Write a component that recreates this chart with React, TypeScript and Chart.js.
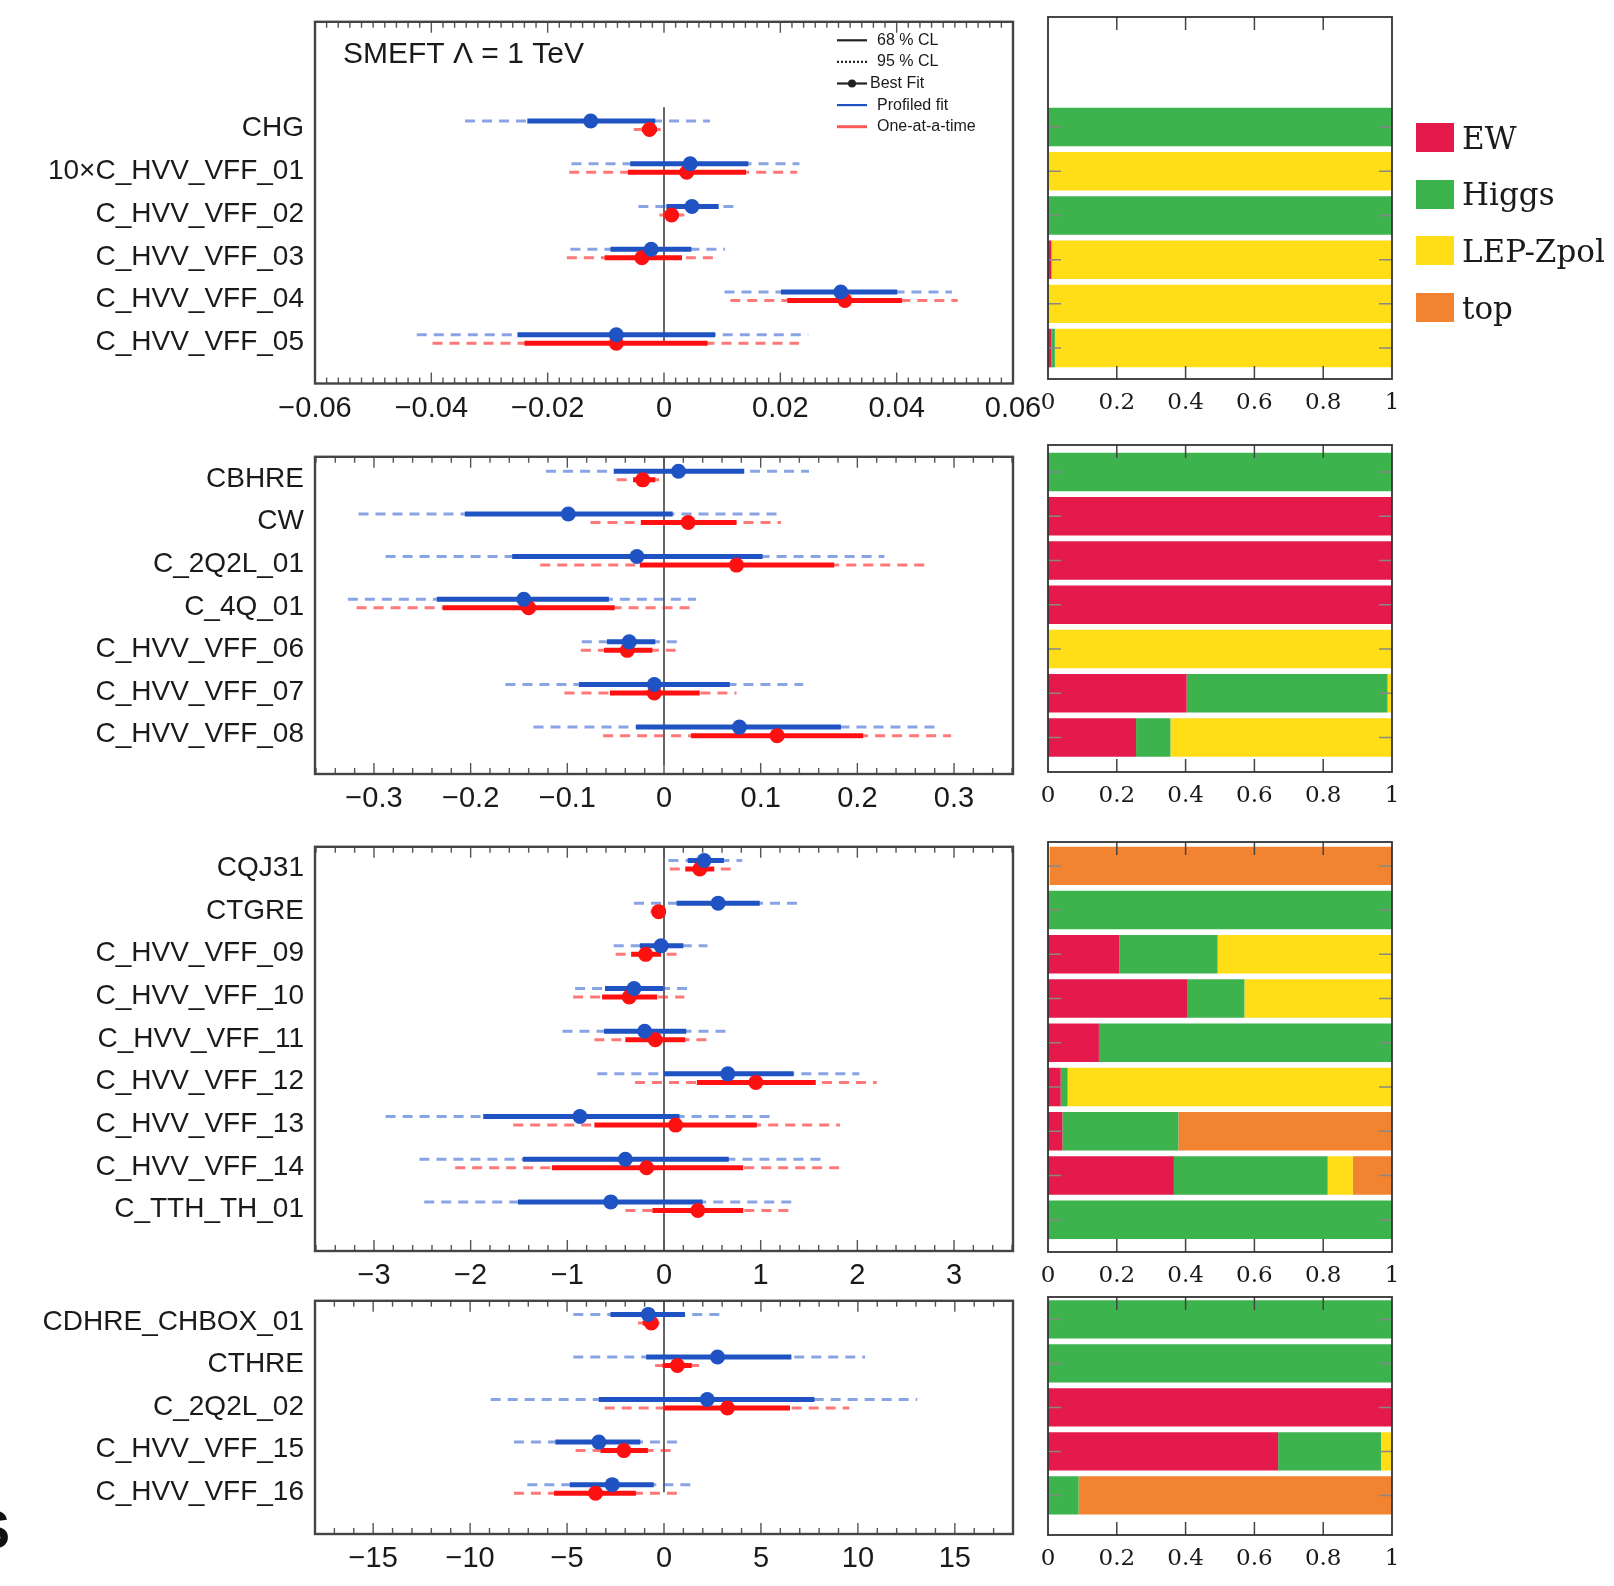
import { useEffect, useRef } from "react"
import { Chart, registerables } from "chart.js"

Chart.register(...registerables)

const SANS = "'Liberation Sans', Arial, sans-serif"
const SERIF = "'DejaVu Serif', 'Liberation Serif', serif"
Chart.defaults.font.family = SANS

// every row: [best fit, 68% low, 68% high, 95% low, 95% high]
const labelsA = ["CHG", "10×C_HVV_VFF_01", "C_HVV_VFF_02", "C_HVV_VFF_03", "C_HVV_VFF_04", "C_HVV_VFF_05"]
const profiledA = [
  [-0.0126, -0.0235, -0.0015, -0.0342, 0.0079],
  [0.0045, -0.0058, 0.0145, -0.0159, 0.0233],
  [0.0048, 0.0004, 0.0094, -0.0044, 0.0128],
  [-0.0022, -0.0092, 0.0047, -0.0161, 0.0105],
  [0.0304, 0.0201, 0.0401, 0.0104, 0.0495],
  [-0.0082, -0.0252, 0.0088, -0.0425, 0.0248],
]
const oneAtATimeA = [
  [-0.0025, -0.0038, -0.0012, -0.0052, 0.0001],
  [0.0039, -0.0062, 0.0141, -0.0163, 0.0229],
  [0.0013, 0.0, 0.0025, -0.0008, 0.0035],
  [-0.0038, -0.0102, 0.0031, -0.0167, 0.0095],
  [0.0311, 0.0212, 0.0409, 0.0114, 0.0505],
  [-0.0082, -0.024, 0.0075, -0.0398, 0.0232],
]

const labelsB = ["CBHRE", "CW", "C_2Q2L_01", "C_4Q_01", "C_HVV_VFF_06", "C_HVV_VFF_07", "C_HVV_VFF_08"]
const profiledB = [
  [0.015, -0.052, 0.083, -0.122, 0.15],
  [-0.099, -0.206, 0.009, -0.316, 0.118],
  [-0.028, -0.157, 0.102, -0.288, 0.228],
  [-0.145, -0.235, -0.057, -0.327, 0.033],
  [-0.036, -0.059, -0.009, -0.085, 0.015],
  [-0.01, -0.088, 0.068, -0.164, 0.144],
  [0.078, -0.029, 0.183, -0.135, 0.286],
]
const oneAtATimeB = [
  [-0.022, -0.032, -0.009, -0.049, -0.005],
  [0.025, -0.024, 0.075, -0.076, 0.121],
  [0.075, -0.025, 0.176, -0.128, 0.275],
  [-0.14, -0.229, -0.051, -0.318, 0.029],
  [-0.038, -0.062, -0.012, -0.086, 0.012],
  [-0.01, -0.056, 0.037, -0.103, 0.075],
  [0.117, 0.028, 0.206, -0.063, 0.297],
]

const labelsC = [
  "CQJ31", "CTGRE", "C_HVV_VFF_09", "C_HVV_VFF_10", "C_HVV_VFF_11",
  "C_HVV_VFF_12", "C_HVV_VFF_13", "C_HVV_VFF_14", "C_TTH_TH_01",
]
const profiledC = [
  [0.415, 0.245, 0.62, 0.046, 0.81],
  [0.56, 0.13, 0.99, -0.31, 1.44],
  [-0.03, -0.25, 0.2, -0.52, 0.45],
  [-0.31, -0.61, -0.01, -0.92, 0.29],
  [-0.2, -0.62, 0.23, -1.05, 0.66],
  [0.66, 0.0, 1.34, -0.69, 2.02],
  [-0.87, -1.87, 0.16, -2.88, 1.13],
  [-0.4, -1.46, 0.67, -2.53, 1.68],
  [-0.55, -1.51, 0.4, -2.48, 1.35],
]
const oneAtATimeC = [
  [0.37, 0.22, 0.52, 0.06, 0.69],
  [-0.055, -0.115, 0.0, -0.14, 0.02],
  [-0.19, -0.34, -0.03, -0.5, 0.13],
  [-0.36, -0.64, -0.07, -0.94, 0.21],
  [-0.09, -0.4, 0.22, -0.72, 0.49],
  [0.95, 0.34, 1.57, -0.3, 2.2],
  [0.12, -0.72, 0.96, -1.56, 1.82],
  [-0.18, -1.16, 0.82, -2.16, 1.82],
  [0.35, -0.12, 0.82, -0.4, 1.3],
]

const labelsD = ["CDHRE_CHBOX_01", "CTHRE", "C_2Q2L_02", "C_HVV_VFF_15", "C_HVV_VFF_16"]
const profiledD = [
  [-0.81, -2.76, 1.08, -4.68, 3.0],
  [2.76, -0.92, 6.57, -4.68, 10.37],
  [2.23, -3.36, 7.76, -8.94, 13.06],
  [-3.36, -5.6, -1.22, -7.74, 1.01],
  [-2.67, -4.86, -0.53, -7.05, 1.66],
]
const oneAtATimeD = [
  [-0.65, -1.1, -0.3, -1.34, -0.23],
  [0.69, -0.07, 1.43, -0.46, 1.84],
  [3.27, 0.0, 6.5, -3.06, 9.56],
  [-2.07, -3.27, -0.83, -4.56, 0.39],
  [-3.53, -5.67, -1.45, -7.74, 0.69],
]

// fraction of the constraint per dataset group
const groups = ["EW", "Higgs", "LEP-Zpol", "top"]
const ewA = [0, 0, 0, 0.01, 0, 0.01]
const higgsA = [1, 0, 1, 0, 0, 0.01]
const lepA = [0, 1, 0, 0.99, 1, 0.98]
const topA = [0, 0, 0, 0, 0, 0]
const ewB = [0, 1, 1, 1, 0, 0.403, 0.256]
const higgsB = [1, 0, 0, 0, 0, 0.584, 0.1]
const lepB = [0, 0, 0, 0, 1, 0.013, 0.644]
const topB = [0, 0, 0, 0, 0, 0, 0]
const ewC = [0, 0, 0.207, 0.406, 0.148, 0.037, 0.042, 0.366, 0]
const higgsC = [0, 1, 0.286, 0.165, 0.852, 0.02, 0.337, 0.447, 1]
const lepC = [0.005, 0, 0.507, 0.429, 0, 0.943, 0, 0.073, 0]
const topC = [0.995, 0, 0, 0, 0, 0, 0.621, 0.114, 0]
const ewD = [0, 0, 1, 0.669, 0]
const higgsD = [1, 1, 0, 0.299, 0.089]
const lepD = [0, 0, 0, 0.032, 0]
const topD = [0, 0, 0, 0, 0.911]

const xTicksA = [-0.06, -0.04, -0.02, 0, 0.02, 0.04, 0.06]
const xTicksB = [-0.3, -0.2, -0.1, 0, 0.1, 0.2, 0.3]
const xTicksC = [-3, -2, -1, 0, 1, 2, 3]
const xTicksD = [-15, -10, -5, 0, 5, 10, 15]
const fracTicks = [0, 0.2, 0.4, 0.6, 0.8, 1]

const title = "SMEFT \u039B = 1 TeV"
const legendLabels = ["68 % CL", "95 % CL", "Best Fit", "Profiled fit", "One-at-a-time"]

const BLUE = "#1f52c2"
const BLUE_LIGHT = "rgba(40, 90, 205, 0.55)"
const RED = "#ff1010"
const RED_LIGHT = "rgba(255, 30, 30, 0.6)"
const groupColors = ["#e31a4b", "#3db34e", "#ffde17", "#f28431"]

// layout (page pixels)
const PLOT_L = 315
const PLOT_R = 1013
const FRAC_L = 1048
const FRAC_R = 1392
const PAD_TOP = 24
const AXIS_H = 50
const PAD_R = 45
const FRAC_PAD = 25
const DY_BLUE = -0.18
const DY_RED = 0.02

const panels = [
  {
    labels: labelsA, profiled: profiledA, oneAtATime: oneAtATimeA, fractions: [ewA, higgsA, lepA, topA],
    xTicks: xTicksA, xRange: 0.06, minor: 0.002, decimals: 2, offset: 2,
    leftBox: [17.5, 383], leftY: [-0.5, 7.96], rightBox: [17, 379], rightY: [-0.49, 7.7],
    zeroSpan: [1.5, 7.0], header: true,
  },
  {
    labels: labelsB, profiled: profiledB, oneAtATime: oneAtATimeB, fractions: [ewB, higgsB, lepB, topB],
    xTicks: xTicksB, xRange: 0.361, minor: 0.02, decimals: 1, offset: 0,
    leftBox: [453, 774], leftY: [-0.52, 6.92], rightBox: [445, 772], rightY: [-0.61, 6.78],
    zeroSpan: [-0.52, 6.7], header: false,
  },
  {
    labels: labelsC, profiled: profiledC, oneAtATime: oneAtATimeC, fractions: [ewC, higgsC, lepC, topC],
    xTicks: xTicksC, xRange: 3.61, minor: 0.2, decimals: 0, offset: 0,
    leftBox: [843, 1251], leftY: [-0.5, 8.97], rightBox: [842, 1252], rightY: [-0.54, 8.73],
    zeroSpan: [-0.5, 8.97], header: false,
  },
  {
    labels: labelsD, profiled: profiledD, oneAtATime: oneAtATimeD, fractions: [ewD, higgsD, lepD, topD],
    xTicks: xTicksD, xRange: 18, minor: 1, decimals: 0, offset: 0,
    leftBox: [1297, 1534], leftY: [-0.5, 4.98], rightBox: [1297, 1535], rightY: [-0.51, 4.9],
    zeroSpan: [-0.5, 4.0], header: false,
  },
]

function fmt(v: number, d: number) {
  if (Math.abs(v) < 1e-9) return "0"
  return v.toFixed(d).replace("-", "\u2212")
}

function ErrorPanel({ p }: { p: any }) {
  const chartRef = useRef<HTMLCanvasElement>(null)

  useEffect(() => {
    if (!chartRef.current) return
    const rows = p.labels.map((_: string, i: number) => p.offset + i)

    const bars = (src: number[][], lo: number, hi: number, dy: number) =>
      src.flatMap((r, i) => [
        { x: r[lo], y: rows[i] + dy },
        { x: r[hi], y: rows[i] + dy },
        { x: r[hi], y: null },
      ])
    const dots = (src: number[][], dy: number) => src.map((r, i) => ({ x: r[0], y: rows[i] + dy }))
    const line = (data: any[], color: string, width: number, dash: number[], order: number) => ({
      type: "line",
      data,
      borderColor: color,
      borderWidth: width,
      borderDash: dash,
      borderCapStyle: "butt",
      pointRadius: 0,
      pointHoverRadius: 0,
      fill: false,
      spanGaps: false,
      tension: 0,
      order,
    })
    const points = (data: any[], color: string, order: number) => ({
      type: "scatter",
      data,
      pointRadius: 7.5,
      pointHoverRadius: 7.5,
      pointBackgroundColor: color,
      backgroundColor: color,
      pointBorderWidth: 0,
      borderWidth: 0,
      order,
    })

    // ROOT-style frame with inward ticks, plus the header of the first panel
    const frame = {
      id: "rootFrame",
      afterDraw(chart: any) {
        const { ctx, chartArea: a } = chart
        const xs = chart.scales.x
        ctx.save()
        ctx.strokeStyle = "#555"
        ctx.lineWidth = 1.4
        const kMin = Math.ceil(-p.xRange / p.minor - 1e-6)
        const kMax = Math.floor(p.xRange / p.minor + 1e-6)
        ctx.beginPath()
        for (let k = kMin; k <= kMax; k++) {
          const v = k * p.minor
          const major = p.xTicks.some((t: number) => Math.abs(t - v) < p.minor / 10)
          const len = major ? 11 : 6
          const px = xs.getPixelForValue(v)
          ctx.moveTo(px, a.top)
          ctx.lineTo(px, a.top + len)
          ctx.moveTo(px, a.bottom)
          ctx.lineTo(px, a.bottom - len)
        }
        ctx.stroke()
        ctx.strokeStyle = "#444"
        ctx.lineWidth = 2.4
        ctx.strokeRect(a.left, a.top, a.right - a.left, a.bottom - a.top)

        if (p.header) {
          ctx.fillStyle = "#1a1a1a"
          ctx.font = `30px ${SANS}`
          ctx.textBaseline = "alphabetic"
          ctx.textAlign = "left"
          ctx.fillText(title, a.left + 28, a.top + 41)

          ctx.font = `16px ${SANS}`
          ctx.textBaseline = "middle"
          legendLabels.forEach((label, i) => {
            const y = a.top + 18.5 + i * 21.6
            const x0 = a.left + 522
            const x1 = a.left + 552
            ctx.beginPath()
            ctx.setLineDash(i === 1 ? [2, 2] : [])
            ctx.lineWidth = i === 4 ? 3 : 2.2
            ctx.strokeStyle = i === 3 ? BLUE : i === 4 ? "#ff5a5a" : "#222"
            ctx.moveTo(x0, y)
            ctx.lineTo(x1, y)
            ctx.stroke()
            if (i === 2) {
              ctx.beginPath()
              ctx.fillStyle = "#222"
              ctx.arc((x0 + x1) / 2, y, 4, 0, Math.PI * 2)
              ctx.fill()
            }
            ctx.setLineDash([])
            ctx.fillStyle = "#1a1a1a"
            ctx.fillText(label, a.left + (i === 2 ? 555 : 562), y)
          })
        }
        ctx.restore()
      },
    }

    const chart = new Chart(chartRef.current, {
      type: "line",
      data: {
        datasets: [
          line([{ x: 0, y: p.zeroSpan[0] }, { x: 0, y: p.zeroSpan[1] }], "#666", 2, [], 10),
          line(bars(p.profiled, 3, 4, DY_BLUE), BLUE_LIGHT, 3, [10, 7], 8),
          line(bars(p.oneAtATime, 3, 4, DY_RED), RED_LIGHT, 3, [10, 7], 9),
          line(bars(p.profiled, 1, 2, DY_BLUE), BLUE, 5, [], 6),
          line(bars(p.oneAtATime, 1, 2, DY_RED), RED, 5, [], 7),
          points(dots(p.oneAtATime, DY_RED), RED, 2),
          points(dots(p.profiled, DY_BLUE), BLUE, 1),
        ] as any,
      },
      options: {
        animation: false,
        responsive: true,
        maintainAspectRatio: false,
        events: [],
        layout: { padding: { top: PAD_TOP, right: PAD_R, left: 0, bottom: 0 } },
        plugins: { legend: { display: false }, tooltip: { enabled: false } },
        scales: {
          x: {
            type: "linear",
            min: -p.xRange,
            max: p.xRange,
            grid: { display: false, drawTicks: false },
            border: { display: false },
            afterBuildTicks: (s: any) => {
              s.ticks = p.xTicks.map((v: number) => ({ value: v }))
            },
            afterFit: (s: any) => {
              s.height = AXIS_H
            },
            ticks: {
              autoSkip: false,
              maxRotation: 0,
              padding: 8,
              color: "#1a1a1a",
              font: { family: SANS, size: 29 },
              callback: (v: any) => fmt(Number(v), p.decimals),
            },
          },
          y: {
            type: "linear",
            reverse: true,
            min: p.leftY[0],
            max: p.leftY[1],
            grid: { display: false, drawTicks: false },
            border: { display: false },
            afterBuildTicks: (s: any) => {
              s.ticks = rows.map((v: number) => ({ value: v }))
            },
            afterFit: (s: any) => {
              s.width = PLOT_L
            },
            ticks: {
              autoSkip: false,
              padding: 11,
              color: "#1a1a1a",
              font: { family: SANS, size: 28 },
              callback: (v: any) => p.labels[Math.round(Number(v)) - p.offset] ?? "",
            },
          },
        },
      } as any,
      plugins: [frame],
    })

    return () => {
      chart.destroy()
    }
  }, [p])

  const top = p.leftBox[0] - PAD_TOP
  const height = p.leftBox[1] - p.leftBox[0] + PAD_TOP + AXIS_H
  return (
    <div style={{ position: "absolute", left: 0, top, width: PLOT_R + PAD_R, height }}>
      <canvas ref={chartRef} />
    </div>
  )
}

function FractionPanel({ p }: { p: any }) {
  const chartRef = useRef<HTMLCanvasElement>(null)

  useEffect(() => {
    if (!chartRef.current) return
    const rows = p.labels.map((_: string, i: number) => p.offset + i)

    const frame = {
      id: "fracFrame",
      afterDraw(chart: any) {
        const { ctx, chartArea: a } = chart
        const xs = chart.scales.x
        const ys = chart.scales.y
        ctx.save()
        ctx.beginPath()
        ctx.strokeStyle = "#888"
        ctx.lineWidth = 1.5
        rows.forEach((r: number) => {
          const py = ys.getPixelForValue(r)
          ctx.moveTo(a.left, py)
          ctx.lineTo(a.left + 13, py)
          ctx.moveTo(a.right, py)
          ctx.lineTo(a.right - 13, py)
        })
        ctx.stroke()
        ctx.beginPath()
        ctx.strokeStyle = "#444"
        fracTicks.slice(1, -1).forEach((v) => {
          const px = xs.getPixelForValue(v)
          ctx.moveTo(px, a.top)
          ctx.lineTo(px, a.top + 13)
          ctx.moveTo(px, a.bottom)
          ctx.lineTo(px, a.bottom - 13)
        })
        ctx.stroke()
        ctx.strokeStyle = "#333"
        ctx.lineWidth = 1.8
        ctx.strokeRect(a.left, a.top, a.right - a.left, a.bottom - a.top)
        ctx.restore()
      },
    }

    const chart = new Chart(chartRef.current, {
      type: "bar",
      data: {
        datasets: groups.map((g, k) => ({
          label: g,
          data: p.fractions[k].map((v: number, i: number) => ({ x: v, y: rows[i] })),
          backgroundColor: groupColors[k],
          borderWidth: 0,
          barPercentage: 0.87,
          categoryPercentage: 1,
        })),
      },
      options: {
        indexAxis: "y",
        animation: false,
        responsive: true,
        maintainAspectRatio: false,
        events: [],
        layout: { padding: { top: PAD_TOP, right: FRAC_PAD, left: FRAC_PAD, bottom: 0 } },
        plugins: { legend: { display: false }, tooltip: { enabled: false } },
        scales: {
          x: {
            type: "linear",
            min: 0,
            max: 1,
            stacked: true,
            grid: { display: false, drawTicks: false },
            border: { display: false },
            afterBuildTicks: (s: any) => {
              s.ticks = fracTicks.map((v) => ({ value: v }))
            },
            afterFit: (s: any) => {
              s.height = AXIS_H
            },
            ticks: {
              autoSkip: false,
              maxRotation: 0,
              padding: 10,
              color: "#1a1a1a",
              font: { family: SERIF, size: 23 },
              callback: (v: any) => String(Number(v)),
            },
          },
          y: {
            type: "linear",
            reverse: true,
            offset: false,
            min: p.rightY[0],
            max: p.rightY[1],
            stacked: true,
            display: false,
            grid: { offset: false },
            afterBuildTicks: (s: any) => {
              s.ticks = rows.map((v: number) => ({ value: v }))
            },
          },
        },
      } as any,
      plugins: [frame],
    })

    return () => {
      chart.destroy()
    }
  }, [p])

  const top = p.rightBox[0] - PAD_TOP
  const height = p.rightBox[1] - p.rightBox[0] + PAD_TOP + AXIS_H
  return (
    <div
      style={{
        position: "absolute",
        left: FRAC_L - FRAC_PAD,
        top,
        width: FRAC_R - FRAC_L + 2 * FRAC_PAD,
        height,
      }}
    >
      <canvas ref={chartRef} />
    </div>
  )
}

export default function App() {
  return (
    <div
      style={{
        position: "absolute",
        left: 0,
        top: 0,
        width: 1614,
        height: 1586,
        overflow: "hidden",
        background: "#fff",
      }}
    >
      {panels.map((p, i) => (
        <ErrorPanel key={"err" + i} p={p} />
      ))}
      {panels.map((p, i) => (
        <FractionPanel key={"frac" + i} p={p} />
      ))}
      {groups.map((g, i) => (
        <div
          key={g}
          style={{
            position: "absolute",
            left: 1416,
            top: 123 + i * 56.7,
            height: 29,
            display: "flex",
            alignItems: "center",
            whiteSpace: "nowrap",
          }}
        >
          <span style={{ display: "inline-block", width: 38, height: 29, background: groupColors[i] }} />
          <span style={{ marginLeft: 8, fontFamily: SERIF, fontSize: 31, color: "#1a1a1a" }}>{g}</span>
        </div>
      ))}
      <div
        style={{
          position: "absolute",
          left: -26,
          top: 1498,
          fontFamily: SANS,
          fontWeight: "bold",
          fontSize: 54,
          color: "#111",
        }}
      >
        S
      </div>
    </div>
  )
}
